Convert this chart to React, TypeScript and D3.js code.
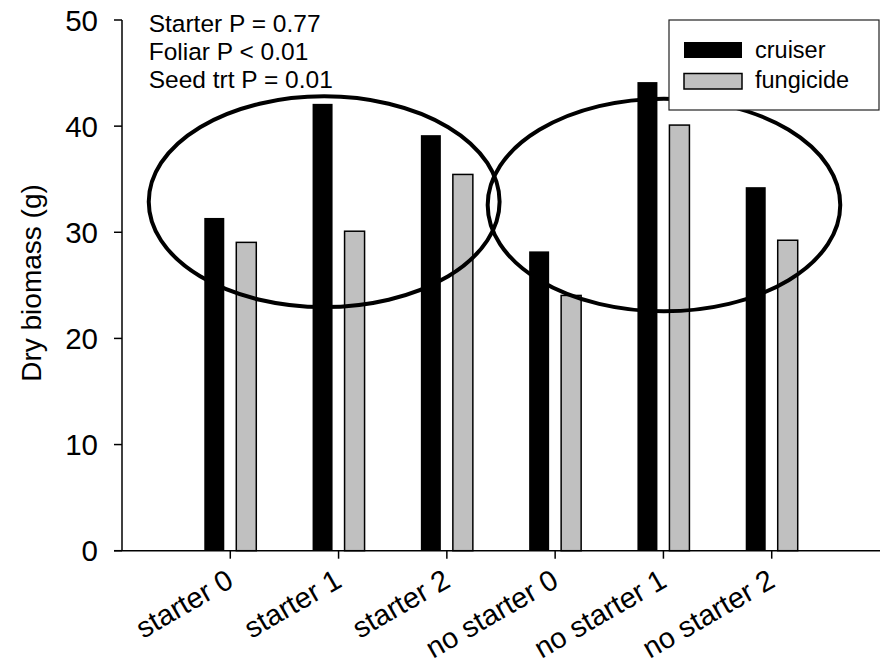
import React from "react";
import * as d3 from "d3";

const categories = ["starter 0", "starter 1", "starter 2", "no starter 0", "no starter 1", "no starter 2"];
const cruiser = [31.35, 42.1, 39.15, 28.2, 44.15, 34.25];
const fungicide = [29.05, 30.1, 35.45, 24.05, 40.1, 29.25];
const yTicks = [0, 10, 20, 30, 40, 50];
const annotations = ["Starter P = 0.77", "Foliar P < 0.01", "Seed trt P = 0.01"];
const seriesNames = ["cruiser", "fungicide"];
// ellipses in data units: [cx (category index space), cy (value), rx, ry]
const ellipseCx = [1.867, 5.005];
const ellipseCy = [32.88, 32.57];
const ellipseRx = [1.62, 1.628];
const ellipseRy = [9.93, 10.02];

const FONT = "'Liberation Sans', Arial, Helvetica, sans-serif";

export default function App() {
  const W = 880, H = 665;
  const x = d3.scaleLinear().domain([0, 7]).range([122, 880]);
  const y = d3.scaleLinear().domain([0, 50]).range([550.7, 20]);
  const barW = 20;
  const off = 16;
  const y0 = y(0);

  return (
    <svg width={W} height={H} style={{ position: "absolute", left: 0, top: 0, background: "#fff" }} fontFamily={FONT}>
      {/* bars */}
      {categories.map((c, i) => {
        const cx = x(i + 1);
        return (
          <g key={c}>
            <rect x={cx - off - barW / 2} y={y(cruiser[i])} width={barW} height={y0 - y(cruiser[i])} fill="#000" />
            <rect x={cx + off - barW / 2} y={y(fungicide[i])} width={barW} height={y0 - y(fungicide[i])} fill="#c0c0c0" stroke="#000" strokeWidth={1.5} />
          </g>
        );
      })}
      {/* ellipses */}
      {ellipseCx.map((cx, k) => (
        <ellipse key={k} cx={x(cx)} cy={y(ellipseCy[k])} rx={x(cx + ellipseRx[k]) - x(cx)} ry={y(0) - y(ellipseRy[k])} fill="none" stroke="#000" strokeWidth={4} />
      ))}
      {/* y axis */}
      <line x1={122} x2={122} y1={y(50)} y2={y0} stroke="#000" strokeWidth={1.5} />
      {yTicks.map((t) => (
        <g key={t}>
          <line x1={114} x2={122} y1={y(t)} y2={y(t)} stroke="#000" strokeWidth={1.5} />
          <text x={98} y={y(t)} dy="0.36em" textAnchor="end" fontSize={29.5}>{t}</text>
        </g>
      ))}
      {/* x axis */}
      <line x1={114} x2={880} y1={y0} y2={y0} stroke="#000" strokeWidth={1.5} />
      {categories.map((c, i) => (
        <g key={c}>
          <line x1={x(i + 1)} x2={x(i + 1)} y1={y0} y2={y0 + 8} stroke="#000" strokeWidth={1.5} />
          <text transform={`translate(${x(i + 1) + 5},${y0 + 35}) rotate(-30)`} textAnchor="end" fontSize={29}>{c}</text>
        </g>
      ))}
      {/* y label */}
      <text transform={`translate(41,283) rotate(-90)`} textAnchor="middle" fontSize={28}>Dry biomass (g)</text>
      {/* annotations */}
      {annotations.map((a, i) => (
        <text key={a} x={148.7} y={32.3 + i * 28} fontSize={24.5}>{a}</text>
      ))}
      {/* legend */}
      <rect x={669} y={20} width={210} height={90} fill="#fff" stroke="#222" strokeWidth={1.2} />
      <rect x={684} y={42} width={58} height={16} fill="#000" />
      <rect x={684} y={73.5} width={58} height={15.5} fill="#c0c0c0" stroke="#000" strokeWidth={1.5} />
      <text x={755} y={58.3} fontSize={23.5}>{seriesNames[0]}</text>
      <text x={755} y={88.3} fontSize={23.5}>{seriesNames[1]}</text>
    </svg>
  );
}
